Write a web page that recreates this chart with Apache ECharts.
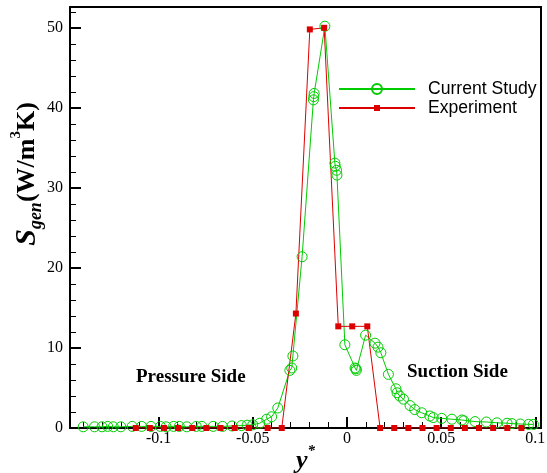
<!DOCTYPE html>
<html><head><meta charset="utf-8">
<script src="https://cdn.jsdelivr.net/npm/echarts@6/dist/echarts.min.js"></script>
<style>html,body{margin:0;padding:0;background:#fff}#c{width:547px;height:473px}</style>
</head><body><div id="c"></div>
<script>
const expX = [-0.1121,-0.1046,-0.0971,-0.0896,-0.0821,-0.0746,-0.0671,-0.0596,-0.0521,-0.0421,-0.0346,-0.0271,-0.0197,-0.0121,-0.0046,0.0028,0.0108,0.0176,0.0251,0.0326,0.0401,0.0476,0.0551,0.0626,0.0701,0.0776,0.0851,0.0926];
const expY = [0,0,0,0,0,0,0,0,0,0,0,14.3,49.8,50.0,12.7,12.7,12.7,0,0,0,0,0,0,0,0,0,0,0];
const simX = [-0.140,-0.134,-0.130,-0.127,-0.124,-0.120,-0.114,-0.109,-0.104,-0.099,-0.096,-0.092,-0.089,-0.085,-0.080,-0.077,-0.071,-0.066,-0.061,-0.056,-0.053,-0.050,-0.0463,-0.0426,-0.0400,-0.0367,-0.0303,-0.0293,-0.0287,-0.0238,-0.0178,-0.0176,-0.0174,-0.0117,-0.0064,-0.0062,-0.0055,-0.0053,-0.0011,0.0043,0.0048,0.0050,0.0099,0.0149,0.0165,0.0180,0.0220,0.0260,0.0266,0.0280,0.0300,0.0335,0.0360,0.0397,0.0440,0.0458,0.0503,0.0557,0.0610,0.0620,0.0680,0.0740,0.0796,0.0850,0.0876,0.0920,0.0964,0.0990];
const simY = [0.15,0.15,0.15,0.2,0.15,0.15,0.2,0.2,0.2,0.2,0.15,0.2,0.2,0.15,0.2,0.2,0.2,0.2,0.25,0.3,0.35,0.4,0.6,1.1,1.4,2.5,7.2,7.5,9.0,21.4,41.0,41.4,41.8,50.2,33.1,32.7,32.2,31.6,10.4,7.5,7.4,7.2,11.6,10.6,10.1,9.4,6.7,4.9,4.4,4.0,3.6,2.8,2.3,1.9,1.5,1.3,1.2,1.1,1.0,0.9,0.8,0.75,0.65,0.6,0.55,0.5,0.45,0.45];
const xMajor = [-0.1,-0.05,0,0.05,0.1];
const xMinor = [-0.14,-0.13,-0.12,-0.11,-0.09,-0.08,-0.07,-0.06,-0.04,-0.03,-0.02,-0.01,0.01,0.02,0.03,0.04,0.06,0.07,0.08,0.09];
const yMajor = [0,10,20,30,40,50];
const yMinor = [2,4,6,8,12,14,16,18,22,24,26,28,32,34,36,38,42,44,46,48,52];
const seriesNames = ['Current Study','Experiment'];

const GREEN = '#00cc00', RED = '#dd0000';
const serif = '"Liberation Serif","Times New Roman",serif';
const sans = '"Liberation Sans",Arial,sans-serif';
const XMIN = -0.147, XMAX = 0.103, YMIN = 0, YMAX = 52.6;

const chart = echarts.init(document.getElementById('c'), null, {renderer:'canvas'});
const axisTextStyle = {fontFamily: serif, fontSize: 16, color: '#000'};
const legendText = {fontFamily: sans, fontSize: 17.6, color: '#000', padding: [0,0,0,8]};
chart.setOption({
  animation: false,
  backgroundColor: '#fff',
  grid: {left: 70, right: 6, top: 7, bottom: 45, show: true, borderColor: '#000', borderWidth: 2,
         backgroundColor: 'transparent', containLabel: false, outerBoundsMode: 'none'},
  legend: [
    {data: [seriesNames[0]], left: 338, top: 80, padding: 0, itemWidth: 76, itemHeight: 12.5, selectedMode: false, textStyle: legendText},
    {data: [seriesNames[1]], left: 338, top: 99, padding: 0, itemWidth: 76, itemHeight: 7.5, selectedMode: false, textStyle: legendText}
  ],
  xAxis: [
    {type: 'value', min: XMIN, max: XMAX, position: 'bottom',
     axisLine: {onZero: false, lineStyle: {color: '#000', width: 2}},
     axisTick: {inside: true, length: 11, customValues: xMajor, lineStyle: {color: '#000', width: 2}},
     axisLabel: Object.assign({customValues: xMajor, margin: 3, formatter: v => String(v)}, axisTextStyle),
     splitLine: {show: false},
     name: '{y|y}{sup|*}', nameLocation: 'middle', nameGap: 16, nameMoveOverlap: false,
     nameTextStyle: {rich: {
       y: {fontFamily: serif, fontSize: 26, fontStyle: 'italic', fontWeight: 'bold', color: '#000', lineHeight: 34},
       sup: {fontFamily: serif, fontSize: 15, fontStyle: 'italic', fontWeight: 'bold', color: '#000', verticalAlign: 'top'}
     }}},
    {type: 'value', min: XMIN, max: XMAX, position: 'bottom',
     axisLine: {show: false, onZero: false},
     axisTick: {inside: true, length: 6, customValues: xMinor, lineStyle: {color: '#000', width: 1}},
     axisLabel: {show: false}, splitLine: {show: false}}
  ],
  yAxis: [
    {type: 'value', min: YMIN, max: YMAX, position: 'left',
     axisLine: {onZero: false, lineStyle: {color: '#000', width: 2}},
     axisTick: {inside: true, length: 11, customValues: yMajor, lineStyle: {color: '#000', width: 2}},
     axisLabel: Object.assign({customValues: yMajor, margin: 7}, axisTextStyle),
     splitLine: {show: false}},
    {type: 'value', min: YMIN, max: YMAX, position: 'left',
     axisLine: {show: false, onZero: false},
     axisTick: {inside: true, length: 6, customValues: yMinor, lineStyle: {color: '#000', width: 1}},
     axisLabel: {show: false}, splitLine: {show: false}}
  ],
  graphic: [
    {type: 'text', left: 136, top: 368, style: {text: 'Pressure Side', fontFamily: serif, fontWeight: 'bold', fontSize: 19, fill: '#000'}},
    {type: 'text', left: 407, top: 363, style: {text: 'Suction Side', fontFamily: serif, fontWeight: 'bold', fontSize: 19, fill: '#000'}},
    {type: 'text', x: 27, y: 174, rotation: Math.PI / 2,
     style: {text: '{s|S}{sub|gen}{t|(W/m}{sup|3}{t|K)}', align: 'center', verticalAlign: 'middle',
       rich: {
         s: {fontFamily: serif, fontSize: 30, fontStyle: 'italic', fontWeight: 'bold', fill: '#000', lineHeight: 36},
         sub: {fontFamily: serif, fontSize: 18, fontStyle: 'italic', fontWeight: 'bold', fill: '#000', verticalAlign: 'bottom'},
         t: {fontFamily: serif, fontSize: 26, fontWeight: 'bold', fill: '#000'},
         sup: {fontFamily: serif, fontSize: 15, fontWeight: 'bold', fill: '#000', verticalAlign: 'top'}
       }}}
  ],
  series: [
    {name: seriesNames[0], type: 'line', xAxisIndex: 0, yAxisIndex: 0,
     data: simX.map((x, i) => [x, simY[i]]),
     symbol: 'circle', symbolSize: 10,
     lineStyle: {color: GREEN, width: 1},
     itemStyle: {color: 'transparent', borderColor: GREEN, borderWidth: 1},
     emphasis: {disabled: true}},
    {name: seriesNames[1], type: 'line', xAxisIndex: 0, yAxisIndex: 0,
     data: expX.map((x, i) => [x, expY[i]]),
     symbol: 'rect', symbolSize: 6,
     lineStyle: {color: RED, width: 1},
     itemStyle: {color: RED},
     emphasis: {disabled: true}}
  ]
});
</script></body></html>
